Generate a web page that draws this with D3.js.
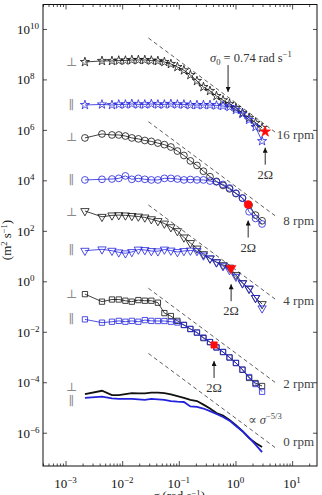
<!DOCTYPE html>
<html>
<head>
<meta charset="utf-8">
<script src="https://cdn.jsdelivr.net/npm/d3@7"></script>
<style>
  body { margin: 0; background: #fff; }
  svg { display: block; }
  text { font-family: "Liberation Serif", "Times New Roman", "DejaVu Serif", serif; }
  .domain { display: none; }
  .tick line { stroke: #222; stroke-width: 0.8; }
</style>
</head>
<body>
<div id="wrapper"></div>
<script>
// frequency bins (rad s^-1), shared by all runs
const sigma = [0.0022, 0.0044, 0.0066, 0.0087, 0.0114, 0.0148, 0.0193, 0.0251, 0.0327, 0.0427, 0.0556, 0.0724, 0.0944,
  0.123, 0.160, 0.209, 0.272, 0.355, 0.462, 0.603, 0.785, 1.02, 1.33, 1.74, 2.26, 2.95];

// 16 rpm
const perp16 = [4.9e8, 5.4e8, 5.4e8, 5.6e8, 5.6e8, 5.9e8, 5.9e8, 5.9e8, 5.6e8, 5.4e8, 4.9e8, 4.1e8, 3.1e8, 2.3e8, 1.5e8,
  8.7e7, 5.0e7, 3.5e7, 2.2e7, 1.5e7, 1.07e7, 7.4e6, 4.7e6, 3.0e6, 1.9e6, 1.2e6];
const para16 = [9.7e6, 1.02e7, 9.7e6, 1.02e7, 1.02e7, 1.07e7, 1.02e7, 1.02e7, 1.07e7, 1.02e7, 1.02e7, 1.07e7, 1.02e7,
  1.02e7, 9.7e6, 9.7e6, 9.7e6, 9.7e6, 9.3e6, 8.9e6, 8.1e6, 6.2e6, 4.3e6, 2.5e6, 1.3e6, 3.6e5];
// 8 rpm
const perp8 = [4.8e5, 6.9e5, 6.3e5, 6.3e5, 5.7e5, 4.8e5, 4.4e5, 3.8e5, 3.5e5, 3.0e5, 2.6e5, 2.1e5, 1.45e5, 9.7e4, 5.9e4,
  3.9e4, 2.3e4, 1.4e4, 9.1e3, 6.3e3, 4.6e3, 3.0e3, 2.0e3, 1.05e3, 4.2e2, 2.5e2];
const para8 = [1.04e4, 1.1e4, 1.13e4, 1.2e4, 1.5e4, 1.1e4, 1.2e4, 1.1e4, 1.04e4, 1.04e4, 1.2e4, 1.2e4, 1.13e4, 1.04e4,
  1.08e4, 1.04e4, 1.04e4, 9.4e3, 8.7e3, 6.9e3, 5.0e3, 3.1e3, 1.95e3, 5.7e2, 3.1e2, 1.87e2];
// 4 rpm
const perp4 = [6.1e2, 3.6e2, 4.1e2, 4.2e2, 4.1e2, 3.9e2, 3.7e2, 3.4e2, 2.9e2, 2.45e2, 1.95e2, 1.4e2, 98, 55, 33, 20, 12,
  8.0, 5.8, 4.4, 3.5, 1.78, 0.86, 0.50, 0.22, 0.126];
const para4 = [16.3, 18.5, 16.3, 14.1, 12.9, 14.5, 18.2, 17.4, 15.9, 15.5, 18.2, 16.6, 14.5, 15.9, 16.6, 15.9, 10.6, 8.2,
  5.6, 4.0, 2.8, 1.52, 0.83, 0.53, 0.22, 0.085];
// 2 rpm
const perp2 = [0.31, 0.156, 0.19, 0.19, 0.17, 0.156, 0.18, 0.17, 0.17, 0.142, 0.055, 0.042, 0.027, 0.0186, 0.0129, 0.0093,
  0.0056, 0.0039, 0.0024, 0.00158, 0.00096, 0.00058, 0.00031, 0.000148, 0.000093, 0.000071];
const para2 = [0.031, 0.023, 0.025, 0.027, 0.025, 0.027, 0.025, 0.029, 0.027, 0.0267, 0.0267, 0.025, 0.0233, 0.0186,
  0.0129, 0.0093, 0.0059, 0.0039, 0.0024, 0.00158, 0.00096, 0.00058, 0.00032, 0.000161, 0.000085, 0.000042];
// 0 rpm
const perp0 = [3.4e-5, 4.6e-5, 3.1e-5, 3.1e-5, 3.4e-5, 3.7e-5, 3.6e-5, 3.6e-5, 3.85e-5, 3.85e-5, 3.7e-5, 3.3e-5, 2.8e-5,
  2.4e-5, 2.0e-5, 1.8e-5, 1.3e-5, 9.1e-6, 6.0e-6, 4.8e-6, 3.2e-6, 2.0e-6, 1.15e-6, 6.1e-7, 3.9e-7, 2.7e-7];
const para0 = [2.4e-5, 2.7e-5, 2.3e-5, 2.2e-5, 2.2e-5, 2.2e-5, 2.1e-5, 2.0e-5, 2.2e-5, 2.1e-5, 2.0e-5, 1.8e-5, 1.7e-5,
  1.65e-5, 1.1e-5, 1.05e-5, 9.1e-6, 7.2e-6, 5.5e-6, 4.2e-6, 3.0e-6, 1.84e-6, 1.15e-6, 6.4e-7, 3.4e-7, 1.7e-7];

// red points at sigma = 2 Omega
const twoOmega = [3.35, 1.675, 0.838, 0.419];
const twoOmegaLevel = [8.5e5, 1.1e3, 3.3, 0.0030];

// -5/3 guide lines: level at sigma = 1, drawn over refRange
const refLevel = [1.2e7, 5.8e3, 2.9, 1.45e-3, 3.8e-6];
const refRange = [0.029, 5.0];

const rpmLabels = ["16 rpm", "8 rpm", "4 rpm", "2 rpm", "0 rpm"];
const rpmLevel = [6.3e5, 250, 0.18, 9.1e-5, 4.4e-7];
const rowSymbols = ["⊥", "∥", "⊥", "∥", "⊥", "∥", "⊥", "∥", "⊥", "∥"];
const rowLevel = [4.9e8, 9.7e6, 5.4e5, 1.04e4, 5.5e2, 17.4, 0.31, 0.032, 6.6e-5, 1.9e-5];

const xTickValues = [1e-3, 1e-2, 1e-1, 1, 10];
const yTickValues = [1e-6, 1e-4, 1e-2, 1, 1e2, 1e4, 1e6, 1e8, 1e10];

const black = "#111";
const blue = "#2323dd";
const red = "#ff0a0a";

let dimensions = {
    width: 322,
    height: 495,
    margin: { top: 4.5, right: 5, bottom: 29, left: 43 },
};
dimensions.boundedWidth = dimensions.width - dimensions.margin.left - dimensions.margin.right;
dimensions.boundedHeight = dimensions.height - dimensions.margin.top - dimensions.margin.bottom;

const wrapper = d3.select("#wrapper")
    .append("svg")
    .attr("width", dimensions.width)
    .attr("height", dimensions.height);

const defs = wrapper.append("defs");
defs.append("marker")
    .attr("id", "head")
    .attr("viewBox", "0 0 10 10")
    .attr("refX", 10).attr("refY", 5)
    .attr("markerWidth", 6).attr("markerHeight", 5)
    .attr("markerUnits", "userSpaceOnUse")
    .attr("orient", "auto")
    .append("path").attr("d", "M0,0 L10,5 L0,10 Z").attr("fill", "#111");

const bounds = wrapper.append("g")
    .attr("transform", `translate(${dimensions.margin.left},${dimensions.margin.top})`);

const xScale = d3.scaleLog()
    .domain([4e-4, 27.5])
    .range([0, dimensions.boundedWidth]);
const yScale = d3.scaleLog()
    .domain([4.8e-8, 9.3e10])
    .range([dimensions.boundedHeight, 0]);

// minor ticks on x
const xMinor = [];
for (let e = -4; e <= 1; e++) {
    for (let m = 2; m <= 9; m++) {
        const v = m * Math.pow(10, e);
        if (v >= 4e-4 && v <= 27.5) xMinor.push(v);
    }
}

const bw = dimensions.boundedWidth, bh = dimensions.boundedHeight;
bounds.append("g").attr("transform", `translate(0,${bh})`)
    .call(d3.axisBottom(xScale).tickValues(xTickValues).tickSize(-5).tickFormat(""));
bounds.append("g").attr("transform", `translate(0,${bh})`)
    .call(d3.axisBottom(xScale).tickValues(xMinor).tickSize(-2.5).tickFormat(""));
bounds.append("g")
    .call(d3.axisTop(xScale).tickValues(xTickValues).tickSize(-5).tickFormat(""));
bounds.append("g")
    .call(d3.axisTop(xScale).tickValues(xMinor).tickSize(-2.5).tickFormat(""));
bounds.append("g")
    .call(d3.axisLeft(yScale).tickValues(yTickValues).tickSize(-4).tickFormat(""));
bounds.append("g").attr("transform", `translate(${bw},0)`)
    .call(d3.axisRight(yScale).tickValues(yTickValues).tickSize(-4).tickFormat(""));

const expo = d => String(Math.round(Math.log10(d))).replace("-", "\u2212");

bounds.selectAll(".xlab").data(xTickValues).join("text")
    .attr("class", "xlab")
    .attr("x", d => xScale(d))
    .attr("y", bh + 21.5)
    .attr("text-anchor", "middle")
    .attr("font-size", 13)
    .attr("fill", "#111")
    .each(function (d) {
        const t = d3.select(this);
        t.append("tspan").text("10");
        t.append("tspan").attr("dy", -5).attr("font-size", 9).text(expo(d));
    });

bounds.selectAll(".ylab").data(yTickValues).join("text")
    .attr("class", "ylab")
    .attr("x", -26)
    .attr("y", d => yScale(d) + 5)
    .attr("font-size", 13)
    .attr("fill", "#111")
    .each(function (d) {
        const t = d3.select(this);
        t.append("tspan").text("10");
        t.append("tspan").attr("dy", -5).attr("font-size", 9).text(expo(d));
    });

// axis titles
const yTitle = wrapper.append("text")
    .attr("transform", `translate(11,240) rotate(-90)`)
    .attr("text-anchor", "middle")
    .attr("font-size", 13)
    .attr("fill", "#222");
yTitle.append("tspan").text("(m");
yTitle.append("tspan").attr("dy", -4).attr("font-size", 8.5).text("2");
yTitle.append("tspan").attr("dy", 4).text(" s");
yTitle.append("tspan").attr("dy", -4).attr("font-size", 8.5).text("\u22121");
yTitle.append("tspan").attr("dy", 4).text(")");

const xTitle = wrapper.append("text")
    .attr("x", dimensions.margin.left + xScale(0.1))
    .attr("y", 500)
    .attr("text-anchor", "middle")
    .attr("font-size", 13)
    .attr("fill", "#222");
xTitle.append("tspan").attr("font-style", "italic").text("σ");
xTitle.append("tspan").text(" (rad s");
xTitle.append("tspan").attr("dy", -4).attr("font-size", 8.5).text("\u22121");
xTitle.append("tspan").attr("dy", 4).text(")");

// -5/3 guides
const refLine = d3.line()
    .x(d => xScale(d[0]))
    .y(d => yScale(d[1]));
bounds.append("g").selectAll("path").data(refLevel).join("path")
    .attr("d", c => refLine(refRange.map(s => [s, c * Math.pow(s, -5 / 3)])))
    .attr("fill", "none")
    .attr("stroke", "#333")
    .attr("stroke-width", 0.8)
    .attr("stroke-dasharray", "4,3");

// series
const runs = [
    { values: perp16, color: black, symbol: d3.symbolStar, size: 26, rot: 0 },
    { values: para16, color: blue, symbol: d3.symbolStar, size: 26, rot: 0 },
    { values: perp8, color: black, symbol: d3.symbolCircle, size: 36, rot: 0 },
    { values: para8, color: blue, symbol: d3.symbolCircle, size: 36, rot: 0 },
    { values: perp4, color: black, symbol: d3.symbolTriangle, size: 30, rot: 180 },
    { values: para4, color: blue, symbol: d3.symbolTriangle, size: 30, rot: 180 },
    { values: perp2, color: black, symbol: d3.symbolSquare, size: 28, rot: 0 },
    { values: para2, color: blue, symbol: d3.symbolSquare, size: 28, rot: 0 },
];

const seriesLine = d3.line()
    .x((d, i) => xScale(sigma[i]))
    .y(d => yScale(d));

const runGroups = bounds.append("g").selectAll("g").data(runs).join("g");
runGroups.append("path")
    .attr("d", d => seriesLine(d.values))
    .attr("fill", "none")
    .attr("stroke", d => d.color)
    .attr("stroke-width", 0.8);
runGroups.each(function (r) {
    d3.select(this).selectAll(".pt").data(r.values).join("path")
        .attr("class", "pt")
        .attr("d", d3.symbol().type(r.symbol).size(r.size))
        .attr("transform", (d, i) => `translate(${xScale(sigma[i])},${yScale(d)}) rotate(${r.rot})`)
        .attr("fill", "none")
        .attr("stroke", r.color)
        .attr("stroke-width", 0.8);
});

// 0 rpm, lines only
bounds.append("path")
    .attr("d", seriesLine(perp0))
    .attr("fill", "none").attr("stroke", black).attr("stroke-width", 1.8);
bounds.append("path")
    .attr("d", seriesLine(para0))
    .attr("fill", "none").attr("stroke", blue).attr("stroke-width", 1.8);

// red markers at 2 Omega
const redSymbols = [d3.symbolStar, d3.symbolCircle, d3.symbolTriangle, d3.symbolSquare];
const redSizes = [36, 50, 40, 40];
bounds.append("g").selectAll("path").data(twoOmega).join("path")
    .attr("d", (d, i) => d3.symbol().type(redSymbols[i]).size(redSizes[i])())
    .attr("transform", (d, i) => `translate(${xScale(d)},${yScale(twoOmegaLevel[i])}) rotate(${i == 2 ? 180 : 0})`)
    .attr("fill", red)
    .attr("stroke", red)
    .attr("stroke-width", 0.6);

// 2 Omega arrows and labels
const arrows = bounds.append("g").selectAll("g").data(twoOmega).join("g")
    .attr("transform", (d, i) => `translate(${xScale(d)},${yScale(twoOmegaLevel[i])})`);
arrows.append("line")
    .attr("x1", 0).attr("x2", 0)
    .attr("y1", 33).attr("y2", 16)
    .attr("stroke", "#111")
    .attr("stroke-width", 0.9)
    .attr("marker-end", "url(#head)");
arrows.append("text")
    .attr("y", 47)
    .attr("text-anchor", "middle")
    .attr("font-size", 12.5)
    .attr("fill", "#333")
    .text("2Ω");

// sigma_0 annotation
const s0 = xScale(0.74);
bounds.append("line")
    .attr("x1", s0).attr("x2", s0)
    .attr("y1", yScale(3.7e8)).attr("y2", yScale(3.2e7))
    .attr("stroke", "#111")
    .attr("stroke-width", 0.9)
    .attr("marker-end", "url(#head)");
const s0Text = bounds.append("text")
    .attr("x", s0 - 18)
    .attr("y", yScale(4.7e8))
    .attr("font-size", 12.5)
    .attr("fill", "#333");
s0Text.append("tspan").attr("font-style", "italic").text("σ");
s0Text.append("tspan").attr("dy", 3).attr("font-size", 8.5).text("0");
s0Text.append("tspan").attr("dy", -3).text(" = 0.74 rad s");
s0Text.append("tspan").attr("dy", -5).attr("font-size", 8.5).text("\u22121");

// proportional-to label
const propText = bounds.append("text")
    .attr("x", xScale(1.68))
    .attr("y", yScale(2.2e-6))
    .attr("font-size", 12.5)
    .attr("fill", "#444");
propText.append("tspan").text("∝ ");
propText.append("tspan").attr("font-style", "italic").text("σ");
propText.append("tspan").attr("dy", -5).attr("font-size", 8.5).text("\u22125/3");

// rpm labels
bounds.append("g").selectAll("text").data(rpmLabels).join("text")
    .attr("x", bw - 3)
    .attr("y", (d, i) => yScale(rpmLevel[i]))
    .attr("dy", "0.35em")
    .attr("text-anchor", "end")
    .attr("font-size", 13)
    .attr("fill", "#444")
    .text(d => d);

// perpendicular / parallel markers
bounds.append("g").selectAll("text").data(rowSymbols).join("text")
    .attr("x", xScale(0.00128))
    .attr("y", (d, i) => yScale(rowLevel[i]))
    .attr("dy", "0.35em")
    .attr("text-anchor", "middle")
    .attr("font-size", 12)
    .attr("fill", "#888")
    .text(d => d);

// frame
bounds.append("rect")
    .attr("width", bw)
    .attr("height", bh)
    .attr("fill", "none")
    .attr("stroke", "#111")
    .attr("stroke-width", 1);
</script>
</body>
</html>
